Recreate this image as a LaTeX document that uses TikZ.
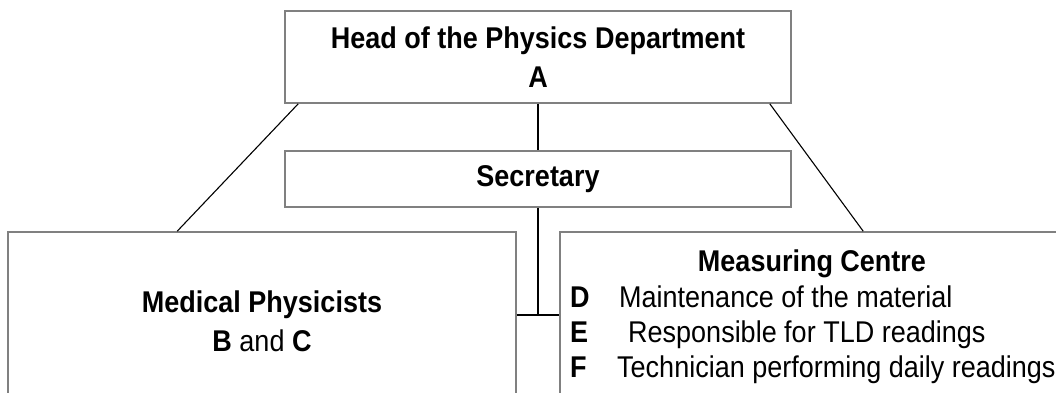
\documentclass[tikz,border=0pt]{standalone}
\usepackage{fontspec}
\setmainfont{Liberation Sans}[FakeStretch=0.9]
\usetikzlibrary{calc}
\definecolor{boxgray}{HTML}{808080}
\begin{document}
\begin{tikzpicture}[x=1pt,y=-1pt,
  box/.style={draw=boxgray, line width=1.6pt, fill=white, inner sep=0pt, align=center,
    font=\fontsize{30}{39}\selectfont},
  link/.style={draw=black, line width=1.1pt},
  txt/.style={inner sep=0pt, font=\fontsize{30}{34}\selectfont}]
\useasboundingbox (0,0) rectangle (1056,392);
\clip (0,0) rectangle (1056,392);
% boxes
\node[box, minimum width=506pt, minimum height=92pt] (head) at (538,57)
  {\textbf{Head of the Physics Department}\\\textbf{A}};
\node[box, minimum width=506pt, minimum height=56pt] (sec) at (538,179)
  {\textbf{Secretary}};
\node[box, minimum width=508pt, minimum height=178pt] (left) at (262,321)
  {\textbf{Medical Physicists}\\\textbf{B} and \textbf{C}};
\node[box, minimum width=504pt, minimum height=178pt] (right) at (812,321) {};
% right box texts
\node[txt, anchor=base] (mc) at (812,271) {\textbf{Measuring Centre}};
\node[txt, anchor=base west] (d) at (570,307) {\textbf{D}};
\node[txt, anchor=base west] (e) at (570,342) {\textbf{E}};
\node[txt, anchor=base west] (f) at (570,377) {\textbf{F}};
\node[txt, anchor=base west] (dt) at (619,307) {Maintenance of the material};
\node[txt, anchor=base west] (et) at (628,342) {Responsible for TLD readings};
\node[txt, anchor=base west] (ft) at (617,377) {Technician performing daily readings};
% connectors
\coordinate (hl) at ($(head.south west)+(14,0)$);
\coordinate (hr) at ($(head.south east)+(-22,0)$);
\coordinate (ll) at ($(left.north west)+(170,0)$);
\coordinate (rr) at ($(right.north west)+(304,0)$);
\coordinate (j) at (538,315);
\draw[link] (head.south) -- (sec.north);
\draw[link] (hl) -- (ll);
\draw[link] (hr) -- (rr);
\draw[link] (sec.south) -- (j);
\draw[link] (left.east |- j) -- (right.west |- j);
\end{tikzpicture}
\end{document}
